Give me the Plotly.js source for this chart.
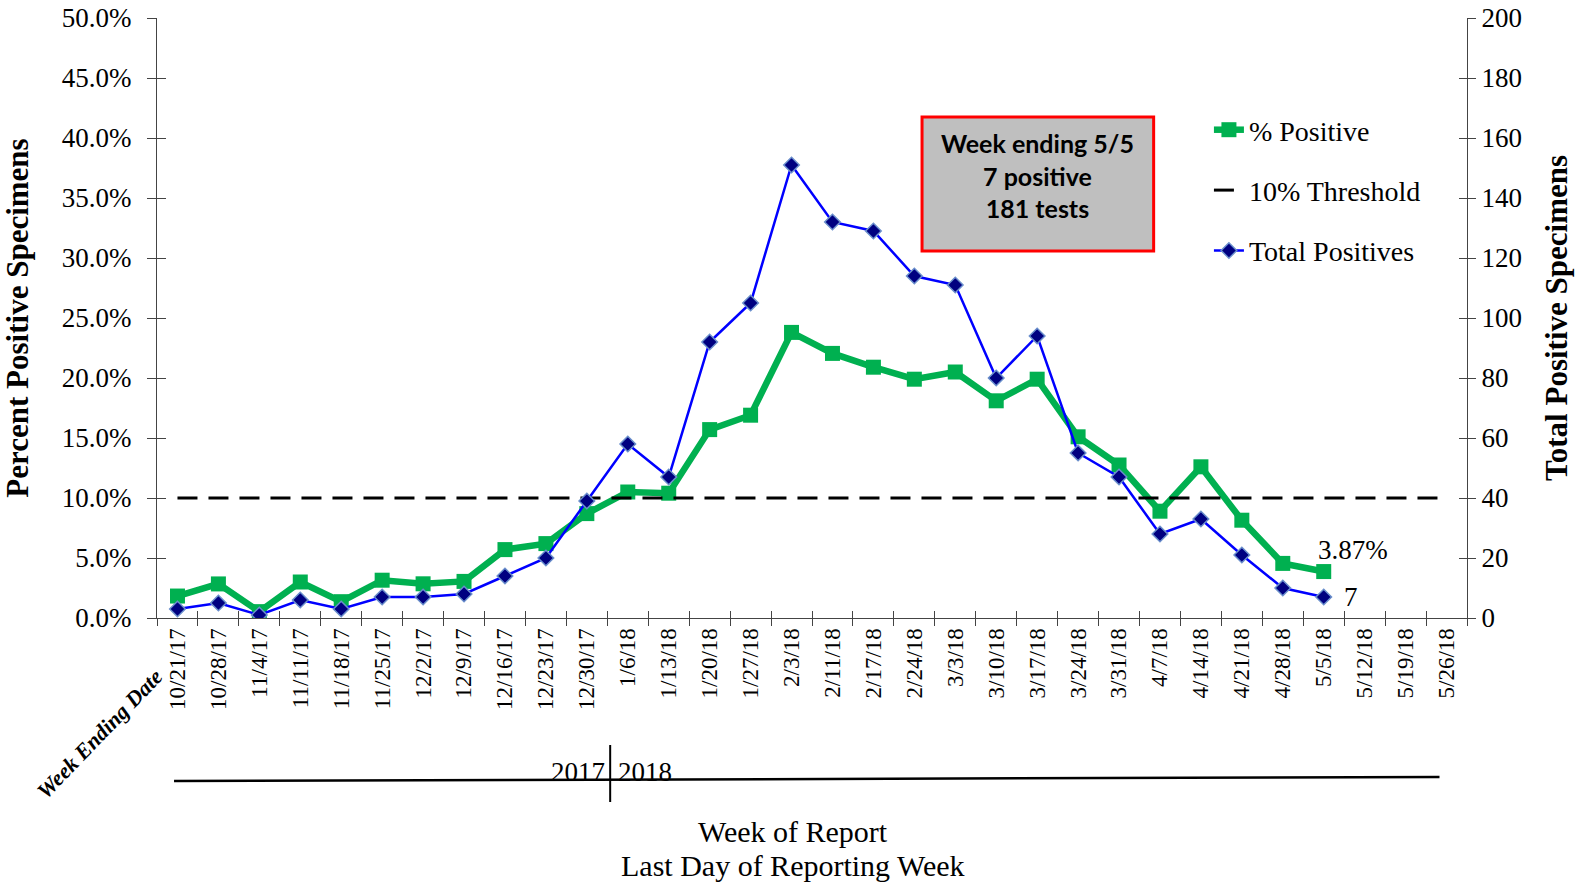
<!DOCTYPE html>
<html>
<head>
<meta charset="utf-8">
<script src="https://cdn.plot.ly/plotly-3.0.1.min.js"></script>
<style>
  html, body { margin: 0; padding: 0; background: #fff; }
  #chart { width: 1581px; height: 884px; }
</style>
</head>
<body>
<div id="chart"></div>
<script>
// ---- Data ----
const weekEnding = ['10/21/17','10/28/17','11/4/17','11/11/17','11/18/17','11/25/17','12/2/17','12/9/17',
  '12/16/17','12/23/17','12/30/17','1/6/18','1/13/18','1/20/18','1/27/18','2/3/18','2/11/18','2/17/18',
  '2/24/18','3/3/18','3/10/18','3/17/18','3/24/18','3/31/18','4/7/18','4/14/18','4/21/18','4/28/18',
  '5/5/18','5/12/18','5/19/18','5/26/18'];
const reportedWeeks = weekEnding.slice(0, 29);
const pctPositive = [1.83, 2.84, 0.53, 3.0, 1.36, 3.15, 2.85, 3.05, 5.7, 6.2, 8.7, 10.5, 10.4, 15.7, 16.9,
  23.8, 22.05, 20.9, 19.9, 20.5, 18.1, 19.9, 15.1, 12.75, 8.9, 12.6, 8.15, 4.55, 3.87];
const totalPositives = [3, 5, 1, 6, 3, 7, 7, 8, 14, 20, 39, 58, 47, 92, 105, 151, 132, 129, 114, 111,
  80, 94, 55, 47, 28, 33, 21, 10, 7];
const thresholdPct = [10,10,10,10,10,10,10,10,10,10,10,10,10,10,10,10,10,10,10,10,10,10,10,10,10,10,10,10,10,10,10,10];
const yearLabels = ['2017', '2018'];
const yearBoundaryIndex = 10.57; // between 12/30/17 and 1/6/18
const summaryLines = ['Week ending 5/5', '7 positive', '181 tests'];
const xTitleLines = ['Week of Report', 'Last Day of Reporting Week'];

const serif = 'Liberation Serif, Times New Roman, serif';
const lastIdx = pctPositive.length - 1;

const traces = [
  {
    name: '% Positive', legendgroup: 'g1',
    x: reportedWeeks, y: pctPositive, xaxis: 'x', yaxis: 'y',
    type: 'scatter', mode: 'lines+markers',
    line: { color: '#00B050', width: 6.5 },
    marker: { symbol: 'square', size: 15, color: '#00B050' },
    hoverinfo: 'skip'
  },
  {
    name: '10% Threshold', legendgroup: 'g2',
    x: weekEnding, y: thresholdPct, xaxis: 'x', yaxis: 'y',
    type: 'scatter', mode: 'lines',
    line: { color: '#000000', width: 3, dash: '20px,11px' },
    hoverinfo: 'skip'
  },
  {
    name: 'Total Positives', legendgroup: 'g3',
    x: reportedWeeks, y: totalPositives, xaxis: 'x', yaxis: 'y2',
    type: 'scatter', mode: 'lines+markers',
    line: { color: '#0000FF', width: 2.5 },
    marker: { symbol: 'diamond', size: 12, color: '#000080', line: { color: '#6A8FCC', width: 1.5 } },
    hoverinfo: 'skip'
  },
  // invisible helpers so that inward tick marks can be drawn (ticks crossing the axes)
  { x: weekEnding, y: thresholdPct, xaxis: 'x2', yaxis: 'y3', type: 'scatter', mode: 'none', showlegend: false, hoverinfo: 'skip' },
  { x: reportedWeeks, y: totalPositives, xaxis: 'x2', yaxis: 'y4', type: 'scatter', mode: 'none', showlegend: false, hoverinfo: 'skip' }
];

const xRange = [-0.5, weekEnding.length - 0.5];

const layout = {
  width: 1581, height: 884,
  margin: { l: 157, r: 114, t: 18, b: 266 },
  paper_bgcolor: '#ffffff', plot_bgcolor: '#ffffff',
  font: { family: serif, color: '#000' },
  showlegend: true,
  legend: {
    x: 0.803, xanchor: 'left', y: 0.855, yanchor: 'top',
    font: { family: serif, size: 28, color: '#000' },
    tracegroupgap: 21, bgcolor: 'rgba(0,0,0,0)', traceorder: 'grouped'
  },
  xaxis: {
    type: 'category', categoryorder: 'array', categoryarray: weekEnding,
    range: xRange, tickson: 'boundaries',
    showline: true, linecolor: '#444', linewidth: 1, showgrid: false, zeroline: false,
    ticks: 'outside', ticklen: 7, tickcolor: '#444', tickangle: -90,
    tickfont: { family: serif, size: 23, color: '#000' }
  },
  xaxis2: {
    type: 'category', categoryorder: 'array', categoryarray: weekEnding, overlaying: 'x',
    range: xRange, tickson: 'boundaries', showline: false, showgrid: false, zeroline: false,
    ticks: 'inside', ticklen: 7, tickcolor: '#444', showticklabels: false
  },
  yaxis: {
    range: [0, 50], dtick: 5, tickformat: '.1f', ticksuffix: '%',
    showline: true, linecolor: '#444', linewidth: 1, showgrid: false, zeroline: false,
    ticks: 'outside', ticklen: 9, tickcolor: '#444', ticklabelstandoff: 10,
    tickfont: { family: serif, size: 27, color: '#000' },
    title: { text: '<b>Percent Positive Specimens</b>', font: { family: serif, size: 31, color: '#000' }, standoff: 27 }
  },
  yaxis2: {
    range: [0, 200], dtick: 20, overlaying: 'y', side: 'right', anchor: 'x',
    showline: true, linecolor: '#444', linewidth: 1, showgrid: false, zeroline: false,
    ticks: 'outside', ticklen: 8, tickcolor: '#444',
    tickfont: { family: serif, size: 27, color: '#000' },
    title: { text: '<b>Total Positive Specimens</b>', font: { family: serif, size: 31, color: '#000' }, standoff: 24 }
  },
  yaxis3: {
    range: [0, 50], dtick: 5, overlaying: 'y', side: 'left', anchor: 'x2',
    showline: false, showgrid: false, zeroline: false,
    ticks: 'inside', ticklen: 9, tickcolor: '#444', showticklabels: false
  },
  yaxis4: {
    range: [0, 200], dtick: 20, overlaying: 'y', side: 'right', anchor: 'x2',
    showline: false, showgrid: false, zeroline: false,
    ticks: 'inside', ticklen: 8, tickcolor: '#444', showticklabels: false
  },
  shapes: [
    // summary box
    { type: 'rect', xref: 'paper', yref: 'paper', x0: 0.584, x1: 0.7608, y0: 0.6117, y1: 0.835,
      fillcolor: '#BFBFBF', line: { color: '#FF0000', width: 3 }, layer: 'above' },
    // year baseline
    { type: 'line', xref: 'paper', yref: 'paper', x0: 0.013, x1: 0.979, y0: -0.2717, y1: -0.265,
      line: { color: '#000', width: 2.5 } },
    // year divider
    { type: 'line', xref: 'x', yref: 'paper', x0: yearBoundaryIndex, x1: yearBoundaryIndex, y0: -0.2117, y1: -0.3067,
      line: { color: '#000', width: 2 } }
  ],
  annotations: [
    { xref: 'paper', yref: 'paper', x: 0.672, y: 0.737, xanchor: 'center', yanchor: 'middle',
      text: '<b>' + summaryLines.join('<br>') + '</b>', showarrow: false, align: 'center',
      font: { family: 'Lato, Open Sans, sans-serif', size: 25, color: '#000' } },
    { xref: 'x', yref: 'y', x: reportedWeeks[lastIdx], y: pctPositive[lastIdx],
      text: pctPositive[lastIdx].toFixed(2) + '%', showarrow: false, xanchor: 'left', yanchor: 'middle',
      xshift: -8, yshift: 22, font: { family: serif, size: 27, color: '#000' } },
    { xref: 'x', yref: 'y2', x: reportedWeeks[lastIdx], y: totalPositives[lastIdx],
      text: String(totalPositives[lastIdx]), showarrow: false, xanchor: 'left', yanchor: 'middle',
      xshift: 18, yshift: 0, font: { family: serif, size: 27, color: '#000' } },
    { xref: 'x', yref: 'paper', x: yearBoundaryIndex, y: -0.2567, text: yearLabels[0], showarrow: false,
      xanchor: 'right', yanchor: 'middle', xshift: -3, font: { family: serif, size: 27, color: '#000' } },
    { xref: 'x', yref: 'paper', x: yearBoundaryIndex, y: -0.2567, text: yearLabels[1], showarrow: false,
      xanchor: 'left', yanchor: 'middle', xshift: 6, font: { family: serif, size: 27, color: '#000' } },
    { xref: 'paper', yref: 'paper', x: -0.0435, y: -0.193, text: '<b><i>Week Ending Date</i></b>', showarrow: false,
      textangle: -46, xanchor: 'center', yanchor: 'middle', font: { family: serif, size: 22, color: '#000' } },
    { xref: 'paper', yref: 'paper', x: 0.4857, y: -0.355, text: xTitleLines[0],
      showarrow: false, xanchor: 'center', yanchor: 'middle',
      font: { family: serif, size: 30, color: '#000' } },
    { xref: 'paper', yref: 'paper', x: 0.4857, y: -0.4125, text: xTitleLines[1],
      showarrow: false, xanchor: 'center', yanchor: 'middle',
      font: { family: serif, size: 30, color: '#000' } }
  ]
};

Plotly.newPlot('chart', traces, layout, { displayModeBar: false, staticPlot: true });
</script>
</body>
</html>
